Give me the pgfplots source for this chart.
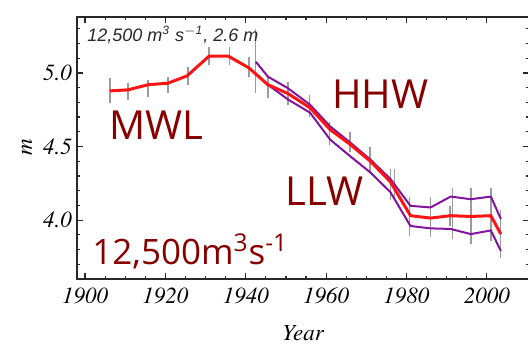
\documentclass[border=0pt]{standalone}
\usepackage{pgfplots}
\pgfplotsset{compat=1.18}
\usepackage{fontspec}
\setmainfont{texgyretermes}[Extension=.otf, UprightFont=*-regular, ItalicFont=*-italic, BoldFont=*-bold, BoldItalicFont=*-bolditalic]
\newfontfamily\tickfont{texgyretermes}[Extension=.otf, UprightFont=*-italic]
\newfontfamily\labelfont{Open Sans}
\newfontfamily\insetfont{Liberation Sans}
\definecolor{lblred}{RGB}{135,0,0}
\definecolor{mwlred}{RGB}{250,20,20}
\definecolor{hpurple}{RGB}{130,20,160}
\definecolor{ebgray}{RGB}{155,155,155}
\definecolor{axgray}{RGB}{40,40,40}
\begin{document}
\begin{tikzpicture}
\path[use as bounding box] (0,0) rectangle (264pt,173.5pt);
\begin{axis}[
  at={(38.5pt,34pt)}, anchor=south west,
  scale only axis, width=226pt, height=131pt,
  xmin=1898, xmax=2010.5, ymin=3.6, ymax=5.38,
  xtick={1900,1920,...,2000}, minor x tick num=3,
  ytick={4.0,4.5,5.0}, minor ytick={3.7,3.8,3.9,4.1,4.2,4.3,4.4,4.6,4.7,4.8,4.9,5.1,5.2,5.3},
  tick align=inside,
  major tick length=3pt, minor tick length=1.6pt,
  axis line style={axgray, line width=0.9pt},
  every tick/.style={axgray, line width=0.6pt},
  /pgf/number format/assume math mode=true,
  xticklabel={\pgfmathprintnumber{\tick}},
  yticklabel={\pgfmathprintnumber{\tick}},
  tick label style={font=\tickfont\fontsize{11.5}{11.5}\selectfont, text=black},
  yticklabel style={/pgf/number format/fixed, /pgf/number format/precision=1, /pgf/number format/fixed zerofill, xshift=1pt},
  xticklabel style={/pgf/number format/1000 sep={}, yshift=-1pt},
  clip=false,
]
% error bars
\addplot[ebgray, line width=0.7pt, unbounded coords=jump] table {
x y
1906.2 4.797
1906.2 4.966
1906.2 nan
1910.7 4.818
1910.7 4.932
1910.7 nan
1915.7 4.838
1915.7 4.953
1915.7 nan
1920.6 4.865
1920.6 4.973
1920.6 nan
1925.6 4.919
1925.6 5.040
1925.6 nan
1930.9 5.054
1930.9 5.176
1930.9 nan
1935.9 5.054
1935.9 5.176
1935.9 nan
1940.8 4.973
1940.8 5.108
1940.8 nan
1942.5 4.865
1942.5 5.300
1942.5 nan
1945.5 4.830
1945.5 4.973
1945.5 nan
1950.5 4.780
1950.5 4.940
1950.5 nan
1955.9 4.700
1955.9 4.850
1955.9 nan
1960.9 4.510
1960.9 4.670
1960.9 nan
1965.9 4.460
1965.9 4.600
1965.9 nan
1970.9 4.330
1970.9 4.500
1970.9 nan
1976.0 4.140
1976.0 4.345
1976.0 nan
1977.0 4.140
1977.0 4.345
1977.0 nan
1980.8 3.890
1980.8 4.155
1980.8 nan
1986.0 3.885
1986.0 4.155
1986.0 nan
1990.8 3.960
1990.8 4.095
1990.8 nan
1991.4 3.870
1991.4 4.220
1991.4 nan
1996.1 3.840
1996.1 4.216
1996.1 nan
2001.0 3.860
2001.0 4.220
2001.0 nan
2003.4 3.740
2003.4 4.070
};
% HHW
\addplot[hpurple, line width=1pt] coordinates {
(1942.5,5.076) (1945.5,4.975) (1950.5,4.896) (1956,4.784) (1961,4.637)
(1966,4.527) (1971,4.412) (1976,4.28) (1981,4.097) (1986,4.086)
(1991,4.16) (1996,4.142) (2001,4.16) (2003.5,4.007)};
% LLW
\addplot[hpurple, line width=1pt] coordinates {
(1942.5,4.995) (1945.5,4.92) (1950.5,4.82) (1956,4.73) (1961,4.547)
(1966,4.434) (1971,4.324) (1976,4.19) (1981,3.96) (1986,3.944)
(1991,3.94) (1996,3.905) (2001,3.93) (2003.5,3.79)};
% MWL
\addplot[mwlred, line width=1.5pt] coordinates {
(1906.2,4.878) (1910.7,4.885) (1915.7,4.92) (1920.6,4.93) (1925.4,4.98)
(1930.9,5.115) (1935.6,5.115) (1940.8,5.034) (1945.5,4.92) (1950.5,4.86)
(1956,4.763) (1961,4.615) (1966,4.514) (1971,4.40) (1976,4.26)
(1981,4.03) (1986,4.014) (1991,4.03) (1996,4.025) (2001,4.03) (2003.5,3.905)};
\end{axis}
% labels
\node[anchor=base west, inner sep=0pt, text=axgray] at (43.5pt,152.5pt) {\insetfont\itshape\fontsize{9}{9}\selectfont 12,500 m\textsuperscript{3} s\textsuperscript{$-$1}, 2.6 m};
\node[anchor=base west, inner sep=0pt, text=lblred] at (54.5pt,103.5pt) {\labelfont\fontsize{20}{20}\selectfont MWL};
\node[anchor=base west, inner sep=0pt, text=lblred] at (166pt,119pt) {\labelfont\fontsize{20}{20}\selectfont HHW};
\node[anchor=base west, inner sep=0pt, text=lblred] at (142.5pt,70.5pt) {\labelfont\fontsize{20}{20}\selectfont LLW};
\node[anchor=base west, inner sep=0pt, text=lblred] at (46pt,41.5pt) {\labelfont\fontsize{17.5}{17.5}\selectfont 12,500m\textsuperscript{3}s\textsuperscript{-1}};
\node[anchor=base, inner sep=0pt, text=black] at (151.5pt,3.5pt) {\fontsize{11.5}{11.5}\selectfont\itshape Year};
\node[rotate=90, anchor=center, inner sep=0pt, text=black] at (13.5pt,100pt) {\fontsize{11.5}{11.5}\selectfont\itshape m};
\end{tikzpicture}
\end{document}
